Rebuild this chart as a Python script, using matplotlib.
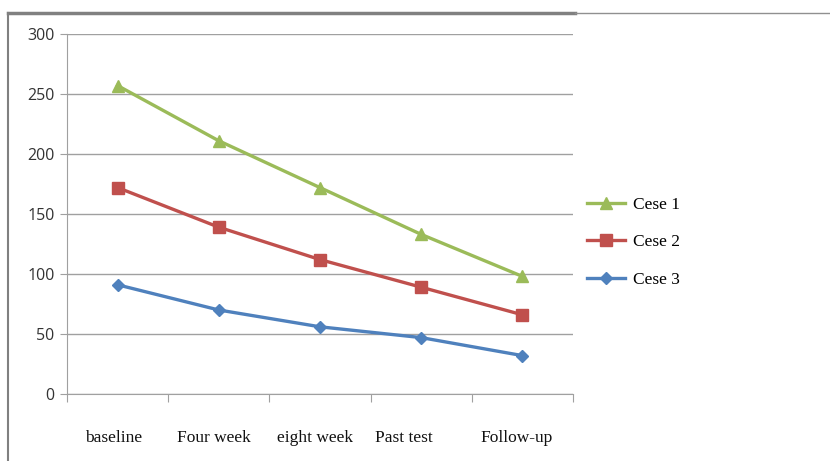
import matplotlib
matplotlib.use("Agg")
import matplotlib.pyplot as plt
from matplotlib.lines import Line2D

categories = ["baseline", "Four week", "eight week", "Past test", "Follow-up"]
cese1 = [257, 211, 172, 133, 98]
cese2 = [172, 139, 112, 89, 66]
cese3 = [91, 70, 56, 47, 32]
yticks = [0, 50, 100, 150, 200, 250, 300]

fig = plt.figure(figsize=(8.3, 4.61), dpi=100)
ax = fig.add_axes([67/830, 67/461, (573-67)/830, (394-34)/461])

x = list(range(len(categories)))
ax.plot(x, cese1, color="#9BBB59", lw=2.4, marker="^", ms=9, label="Cese 1")
ax.plot(x, cese2, color="#C0504D", lw=2.4, marker="s", ms=8, label="Cese 2")
ax.plot(x, cese3, color="#4F81BD", lw=2.4, marker="D", ms=6.5, label="Cese 3")

ax.set_xlim(-0.5, len(categories) - 0.5)
ax.set_ylim(0, 300)
ax.set_yticks(yticks)
ax.set_yticklabels([str(v) for v in yticks], fontfamily="Open Sans", fontsize=11.5, color="#333333")
ax.yaxis.grid(True, color="#A0A0A0", lw=1)
ax.set_axisbelow(True)
for s in ["top", "right"]:
    ax.spines[s].set_visible(False)
ax.spines["left"].set_color("#A0A0A0")
ax.spines["bottom"].set_color("#A0A0A0")
ax.tick_params(axis="y", length=5, color="#A0A0A0", pad=4)

# category tick marks at boundaries, labels below
ax.set_xticks([i - 0.5 for i in range(len(categories) + 1)])
ax.set_xticklabels([])
ax.tick_params(axis="x", length=6, color="#A0A0A0", direction="out")
label_shift = [-0.04, -0.05, -0.05, -0.17, -0.06]
for i, c in enumerate(categories):
    ax.text(i + label_shift[i], -37, c, ha="center", va="center", fontfamily="Liberation Serif",
            fontsize=12.5, color="#111111", transform=ax.transData, clip_on=False)

handles = [
    Line2D([], [], color="#9BBB59", lw=2.4, marker="^", ms=9),
    Line2D([], [], color="#C0504D", lw=2.4, marker="s", ms=8),
    Line2D([], [], color="#4F81BD", lw=2.4, marker="D", ms=6.5),
]
fig.legend(handles, ["Cese 1", "Cese 2", "Cese 3"], loc="upper left",
           bbox_to_anchor=(580/830, 1 - 190/461), frameon=False,
           prop={"family": "Liberation Serif", "size": 12.5},
           handlelength=2.2, labelspacing=1.22, handletextpad=0.45,
           borderpad=0.4, borderaxespad=0)

# outer frame lines
fig.add_artist(Line2D([8/830, 8/830], [0, 1 - 13/461], transform=fig.transFigure, color="#808080", lw=1.5))
fig.add_artist(Line2D([8/830, 575/830], [1 - 13/461, 1 - 13/461], transform=fig.transFigure, color="#808080", lw=2.5))
fig.add_artist(Line2D([575/830, 1], [1 - 13/461, 1 - 13/461], transform=fig.transFigure, color="#909090", lw=1))

fig.savefig("out.png", dpi=100)
